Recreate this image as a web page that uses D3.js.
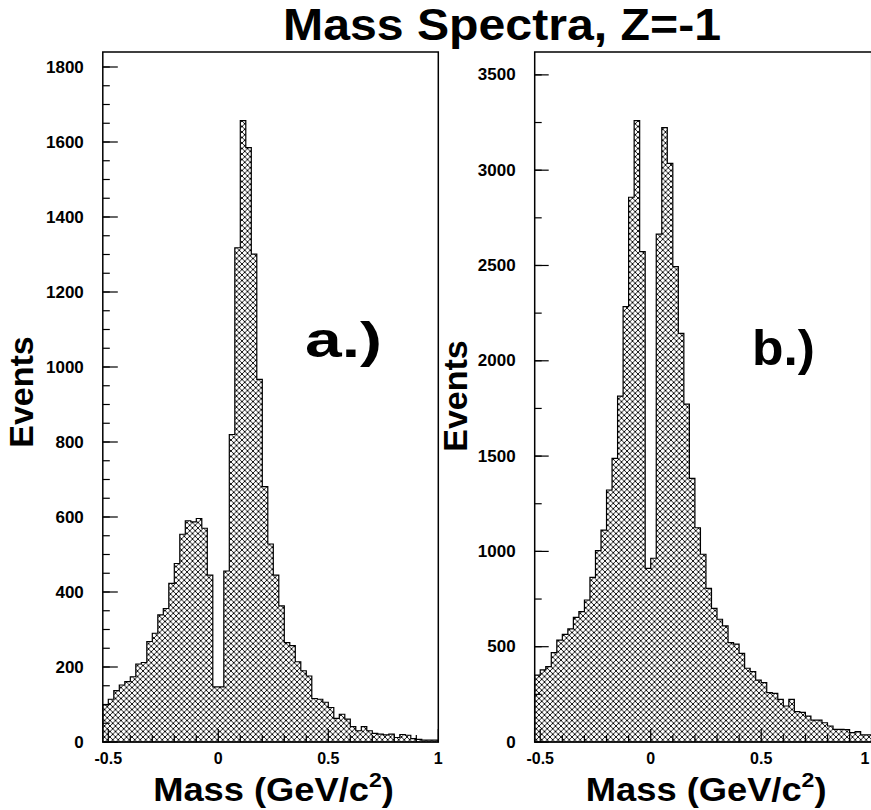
<!DOCTYPE html>
<html>
<head>
<meta charset="utf-8">
<script src="https://cdn.jsdelivr.net/npm/d3@7"></script>
<style>
  html, body { margin: 0; padding: 0; background: #fff; }
  svg { display: block; }
  text { font-family: "Liberation Sans", Arial, Helvetica, sans-serif; font-weight: bold; fill: #000; }
</style>
</head>
<body>
<svg id="chart" width="871" height="810"></svg>
<script>
// ---------------- data ----------------
const lowEdge = -0.525;
const binWidth = 0.025;

// panel a.) counts per bin (61 bins from -0.525 to 1.0)
const countsA = [
  99, 114, 137, 152, 161, 174, 208, 212, 268, 290,
  339, 356, 423, 476, 554, 590, 587, 596, 570, 445,
  147, 147, 456, 820, 1318, 1657, 1585, 1301, 967, 681,
  528, 445, 363, 265, 257, 214, 190, 176, 116, 114,
  106, 92, 63, 74, 61, 41, 30, 41, 30, 23,
  21, 19, 21, 12, 20, 18, 9, 7, 5, 5,
  5
];

// panel b.) counts per bin
const countsB = [
  351, 378, 395, 469, 535, 565, 593, 654, 684, 745,
  864, 1004, 1112, 1322, 1488, 1815, 2284, 2858, 3260, 2573,
  911, 964, 2664, 3223, 3036, 2494, 2144, 1773, 1383, 1124,
  985, 806, 701, 644, 609, 521, 514, 465, 387, 369,
  325, 311, 259, 255, 224, 189, 224, 159, 155, 136,
  115, 115, 101, 84, 66, 66, 65, 49, 54, 37,
  37
];

const xTicksMajor = [-0.5, 0, 0.5, 1];
const xTickLabels = ["-0.5", "0", "0.5", "1"];
const xTicksMinor = [-0.4, -0.3, -0.2, -0.1, 0.1, 0.2, 0.3, 0.4, 0.6, 0.7, 0.8, 0.9];

const yTicksA = [0, 200, 400, 600, 800, 1000, 1200, 1400, 1600, 1800];
const yTicksB = [0, 500, 1000, 1500, 2000, 2500, 3000, 3500];

const titleText = "Mass Spectra, Z=-1";
const panelLabels = ["a.)", "b.)"];

// ---------------- drawing ----------------
const svg = d3.select("#chart");

const defs = svg.append("defs");
const pat = defs.append("pattern")
  .attr("id", "hatch")
  .attr("patternUnits", "userSpaceOnUse")
  .attr("width", 5.5).attr("height", 5.5);
pat.append("rect").attr("width", 5.5).attr("height", 5.5).attr("fill", "#fff");
pat.append("path")
  .attr("d", "M0,0 L5.5,5.5 M0,5.5 L5.5,0 M-1,1 L1,-1 M4.5,6.5 L6.5,4.5 M-1,4.5 L1,6.5 M4.5,-1 L6.5,1")
  .attr("stroke", "#000").attr("stroke-width", 0.9).attr("fill", "none");

const nBins = countsA.length;
const edges = d3.range(nBins + 1).map(i => lowEdge + i * binWidth);

function drawPanel(cfg) {
  const g = svg.append("g");
  const x = d3.scaleLinear().domain([lowEdge, 1.0]).range([cfg.left, cfg.right]);
  const y = d3.scaleLinear().domain([0, cfg.yMax]).range([cfg.bottom, cfg.top]);

  // histogram step path
  const pts = [[x(edges[0]), y(0)]];
  cfg.counts.forEach((c, i) => {
    pts.push([x(edges[i]), y(c)]);
    pts.push([x(edges[i + 1]), y(c)]);
  });
  pts.push([x(edges[nBins]), y(0)]);
  g.append("path")
    .attr("d", d3.line()(pts) + "Z")
    .attr("fill", "url(#hatch)")
    .attr("stroke", "#000")
    .attr("stroke-width", 1.2);

  // frame
  g.append("rect")
    .attr("x", cfg.left).attr("y", cfg.top)
    .attr("width", cfg.right - cfg.left).attr("height", cfg.bottom - cfg.top)
    .attr("fill", "none").attr("stroke", "#000").attr("stroke-width", 1.5);

  // y ticks
  const yMinor = d3.range(0, cfg.yMax, cfg.yMinorStep);
  g.selectAll(".ymin").data(yMinor).enter().append("line")
    .attr("x1", cfg.left).attr("x2", cfg.left + cfg.yMinorLen)
    .attr("y1", d => y(d)).attr("y2", d => y(d))
    .attr("stroke", "#000").attr("stroke-width", 1.2);
  g.selectAll(".ymaj").data(cfg.yTicks).enter().append("line")
    .attr("x1", cfg.left).attr("x2", cfg.left + cfg.yMajorLen)
    .attr("y1", d => y(d)).attr("y2", d => y(d))
    .attr("stroke", "#000").attr("stroke-width", 1.2);
  g.selectAll(".ylab").data(cfg.yTicks).enter().append("text")
    .attr("x", cfg.left - 19).attr("y", d => y(d))
    .attr("text-anchor", "end").attr("dominant-baseline", "central")
    .attr("font-size", 17)
    .text(d => d);

  // x ticks
  g.selectAll(".xmin").data(xTicksMinor).enter().append("line")
    .attr("x1", d => x(d)).attr("x2", d => x(d))
    .attr("y1", cfg.bottom).attr("y2", cfg.bottom - 7)
    .attr("stroke", "#000").attr("stroke-width", 1.2);
  g.selectAll(".xmaj").data(xTicksMajor).enter().append("line")
    .attr("x1", d => x(d)).attr("x2", d => x(d))
    .attr("y1", cfg.bottom).attr("y2", cfg.bottom - 13)
    .attr("stroke", "#000").attr("stroke-width", 1.2);
  g.selectAll(".xlab").data(xTicksMajor).enter().append("text")
    .attr("x", d => Math.min(x(d), 865)).attr("y", cfg.bottom + 16)
    .attr("text-anchor", "middle").attr("dominant-baseline", "central")
    .attr("font-size", 16)
    .text((d, i) => xTickLabels[i]);

  // axis titles
  const xt = g.append("text")
    .attr("transform", `translate(${(cfg.left + cfg.right) / 2 + 3},801) scale(1.1,1)`)
    .attr("text-anchor", "middle").attr("font-size", 33);
  xt.append("tspan").text("Mass (GeV/c");
  xt.append("tspan").attr("font-size", 21).attr("dy", -14).text("2");
  xt.append("tspan").attr("dy", 14).text(")");

  g.append("text")
    .attr("transform", `translate(${cfg.yTitleX},${cfg.yTitleY}) rotate(-90)`)
    .attr("text-anchor", "middle").attr("font-size", 34)
    .text("Events");

  // panel label
  const lab = g.append("text")
    .attr("x", cfg.labelX).attr("y", cfg.labelY)
    .attr("font-size", 50)
    .text(cfg.label);
  if (cfg.labelLen) lab.attr("textLength", cfg.labelLen).attr("lengthAdjust", "spacingAndGlyphs");
}

drawPanel({
  counts: countsA, left: 102.8, right: 438.3, top: 52, bottom: 742,
  yMax: 1840, yTicks: yTicksA, yMinorStep: 50, yMajorLen: 15, yMinorLen: 7,
  yTitleX: 33, yTitleY: 392, label: panelLabels[0], labelX: 305, labelY: 357, labelLen: 77
});
drawPanel({
  counts: countsB, left: 534.7, right: 871.7, top: 52, bottom: 742,
  yMax: 3620, yTicks: yTicksB, yMinorStep: 250, yMajorLen: 14, yMinorLen: 7,
  yTitleX: 467, yTitleY: 396, label: panelLabels[1], labelX: 752, labelY: 365, labelLen: 63
});

svg.append("text")
  .attr("x", 502).attr("y", 40)
  .attr("text-anchor", "middle").attr("font-size", 44)
  .attr("textLength", 438).attr("lengthAdjust", "spacingAndGlyphs")
  .text(titleText);
</script>
</body>
</html>
